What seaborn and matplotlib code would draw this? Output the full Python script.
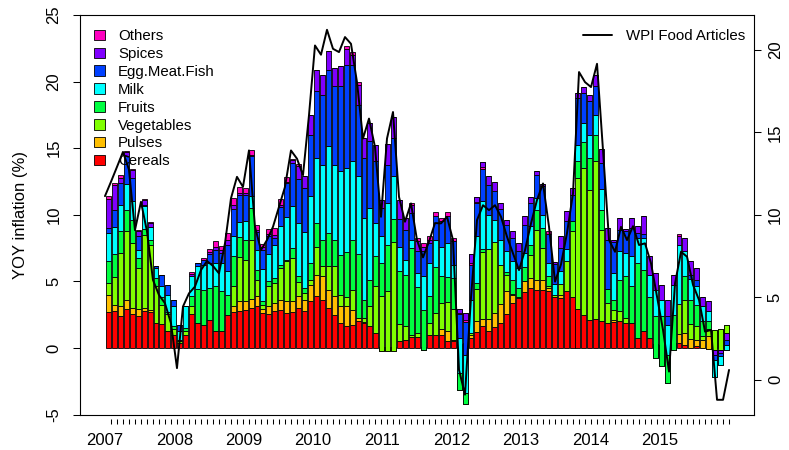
import numpy as np
import matplotlib
matplotlib.use("Agg")
import matplotlib.pyplot as plt
import seaborn as sns
from matplotlib.patches import Patch
from matplotlib.lines import Line2D

sns.set_theme(style="ticks")
plt.rcParams["font.family"] = ["Liberation Sans", "DejaVu Sans"]
plt.rcParams["text.color"] = "black"
plt.rcParams["axes.labelcolor"] = "black"
plt.rcParams["xtick.color"] = "black"
plt.rcParams["ytick.color"] = "black"

# ---- data: monthly YOY contributions (percentage points) ----
year_labels = [str(y) for y in range(2007, 2016)]
groups = ["Cereals", "Pulses", "Vegetables", "Fruits", "Milk",
          "Egg.Meat.Fish", "Spices", "Others"]
colors = ["#FF0000", "#FFBF00", "#80FF00", "#00FF40", "#00FFFF",
          "#0040FF", "#8000FF", "#FF00BF"]

cereals = [2.7, 2.75, 2.43, 2.93, 2.58, 2.4, 2.75, 2.68, 1.88, 1.83,
           1.25, 1.0, 0.38, 1.0, 2.58, 1.88, 1.75, 2.13, 1.25, 1.25,
           2.5, 2.68, 2.75, 2.88, 3.0, 3.13, 2.6, 2.58, 2.8, 2.88,
           2.63, 2.68, 3.0, 2.75, 3.5, 3.93, 3.63, 3.0, 2.5, 1.88,
           1.63, 1.75, 2.0, 1.88, 1.63, 1.12, 0.05, 0.05, 0.1, 0.5,
           0.62, 0.82, 0.8, 0.1, 1.0, 1.0, 1.0, 0.5, 0.5, 0.3,
           0.35, 0.75, 1.2, 1.63, 1.3, 1.58, 1.88, 2.58, 3.38, 3.75,
           4.18, 4.5, 4.38, 4.38, 4.25, 3.83, 3.75, 4.25, 3.83, 2.93,
           2.5, 2.13, 2.18, 2.0, 1.88, 1.93, 2.0, 1.88, 1.88, 0.75,
           1.25, 0.75, 0.3, 0.2, 0.2, 0.4, 0.38, 0.25, 0.0, 0.12,
           0.0, -0.08, 0.15, 0.2, 0.3]
pulses = [1.3, 0.5, 0.75, 0.7, 0.43, 0.5, 0.25, 0.2, 0.0, 0.0,
          0.0, 0.0, 0.0, 0.0, 0.0, 0.0, 0.0, 0.0, 0.0, 0.0,
          0.0, 0.45, 0.75, 0.63, 0.68, 0.75, 0.35, 0.55, 0.6, 0.75,
          0.88, 0.83, 0.92, 0.88, 1.25, 1.58, 1.75, 1.38, 1.38, 1.25,
          1.5, 1.13, 0.25, 0.1, 0.0, 0.0, -0.3, -0.3, -0.35, 0.0,
          0.0, 0.0, 0.0, -0.23, 0.0, 0.0, 0.4, 0.75, 0.1, -0.5,
          -0.6, 0.25, 0.8, 0.55, 0.88, 1.05, 1.45, 1.68, 0.63, 0.0,
          0.83, 0.75, 0.75, 0.75, 0.25, 0.0, 0.25, 0.0, 0.0, 0.0,
          0.0, 0.0, 0.0, 0.0, 0.0, 0.2, 0.0, 0.0, 0.0, 0.0,
          0.0, 0.0, -0.05, 0.0, 0.0, 0.0, 0.7, 0.88, 0.68, 0.5,
          0.63, 0.95, 1.22, 1.22, 1.4]
vegetables = [0.9, 2.1, 3.95, 5.13, 4.88, 3.1, 5.5, 4.88, 2.75, 1.43,
              1.33, 0.43, 0.15, 0.25, 0.6, 0.0, 0.0, 0.0, 0.0, 0.0,
              0.0, 1.5, 3.33, 3.13, 4.45, 1.25, 0.3, 1.5, 1.45, 2.38,
              3.0, 3.25, 1.0, 0.5, 0.38, 2.08, 0.75, 1.75, 2.25, 0.88,
              0.7, 1.5, 0.0, 0.3, 1.5, 3.5, 4.12, 4.5, 8.2, 1.3,
              1.0, 0.18, 0.3, 0.0, 0.88, 1.63, 2.0, 2.2, 2.3, -2.93,
              -3.93, 0.1, 2.4, 5.05, 5.25, 5.3, 2.93, 1.25, 0.08, 0.07,
              0.0, 1.75, 3.75, 2.38, 0.13, 0.18, 0.8, 2.25, 4.93, 9.83,
              11.0, 9.75, 11.83, 6.88, 1.5, 0.75, 0.75, 0.38, 0.0, 0.0,
              0.0, 0.0, -1.0, -1.58, -2.83, -0.53, 2.25, 2.45, 1.15, 1.0,
              0.3, 0.55, -1.5, -1.55, -1.88]
fruits = [1.6, 1.7, 1.63, 1.63, 1.75, 0.75, 0.43, 0.38, 0.63, 0.58,
          0.1, 0.25, 0.1, 0.25, 0.75, 2.55, 2.63, 2.38, 3.38, 3.0,
          1.5, 2.25, 1.5, 1.5, 2.38, 0.75, 0.25, 0.4, 0.4, 0.25,
          0.1, 0.75, 0.45, 0.38, 1.25, 1.8, 2.0, 2.5, 2.0, 3.0,
          3.35, 3.75, 4.83, 1.35, 1.95, 2.25, 2.5, 3.5, 1.7, 4.0,
          3.88, 6.5, 3.5, 3.0, 2.0, 3.45, 2.0, 1.9, 2.35, 1.25,
          0.8, 0.0, 0.5, 0.2, 0.0, 0.0, 0.0, 0.18, 1.0, 0.68,
          1.08, 0.75, 1.5, 1.5, 0.75, 0.0, 0.0, 0.0, 0.75, 1.25,
          2.0, 2.38, 2.0, 1.45, 1.05, 0.75, 2.33, 3.13, 2.8, 5.63,
          4.63, 3.05, 3.13, 3.76, 2.13, 2.63, 0.0, 1.8, 1.8, 1.6,
          1.1, 0.6, -2.07, -1.12, 0.0]
milk = [2.1, 2.0, 2.0, 1.95, 1.38, 0.63, 1.7, 0.95, 0.78, 0.8,
        1.33, 1.5, 0.63, 1.68, 1.5, 1.7, 1.88, 1.88, 1.75, 2.13,
        1.75, 1.5, 1.13, 1.38, 0.88, 1.45, 2.4, 2.0, 2.5, 2.88,
        3.25, 3.13, 4.0, 4.2, 5.0, 4.88, 5.63, 6.5, 5.63, 6.25,
        6.33, 5.88, 5.8, 6.13, 5.43, 2.5, 2.03, 3.13, 3.3, 1.8,
        1.12, 0.62, 1.0, 2.55, 2.5, 2.05, 2.2, 2.5, 1.0, 2.63,
        2.88, 2.53, 3.5, 3.57, 2.57, 1.7, 1.88, 1.58, 1.43, 1.5,
        1.05, 1.38, 0.88, 1.0, 1.0, 0.83, 0.95, 0.93, 0.0, 1.25,
        1.38, 1.75, 1.5, 1.6, 0.0, 2.0, 2.18, 1.75, 2.2, 1.88,
        2.38, 1.7, 1.95, 1.25, 2.25, 2.25, 4.43, 1.88, 1.55, 1.4,
        1.1, 0.75, 1.32, 0.62, 0.43]
egg_meat_fish = [0.4, 1.3, 1.63, 2.05, 1.75, 1.0, 0.1, 0.0, 0.1, 0.83,
                 0.75, 0.4, 0.5, 0.0, 0.0, 0.25, 0.38, 0.63, 1.0, 0.75,
                 2.0, 2.05, 2.0, 2.0, 3.0, 1.4, 1.45, 1.38, 0.5, 1.45,
                 2.5, 3.25, 3.3, 3.3, 4.63, 5.0, 5.25, 5.75, 5.88, 6.38,
                 7.75, 7.25, 5.38, 4.5, 5.0, 4.7, 2.1, 2.88, 2.85, 2.1,
                 2.25, 2.0, 1.7, 1.83, 1.5, 1.8, 1.9, 2.05, 1.8, 2.18,
                 3.13, 3.42, 2.95, 2.93, 2.25, 2.13, 2.3, 2.0, 1.75, 1.25,
                 2.13, 1.75, 1.75, 2.13, 2.2, 1.43, 1.75, 2.08, 2.0, 3.5,
                 2.3, 2.5, 2.13, 1.95, 3.7, 2.3, 1.63, 1.63, 2.13, 0.38,
                 0.33, 0.0, 0.0, 0.0, 0.63, 0.0, 0.0, 0.0, 0.33, 0.5,
                 0.0, 0.0, 0.38, 0.25, 0.32]
spices = [2.2, 1.9, 0.38, 0.3, 0.6, 0.4, 0.35, 0.3, 0.0, 0.0,
          0.0, 0.0, 0.0, 0.0, 0.15, 0.0, 0.0, 0.2, 0.2, 0.25,
          0.38, 0.33, 0.18, 0.13, 0.1, 0.13, 0.25, 0.13, 0.25, 0.18,
          0.13, 0.2, 1.0, 0.88, 1.5, 1.63, 1.5, 1.45, 1.38, 1.55,
          1.18, 0.75, 1.5, 1.5, 1.38, 1.18, 0.58, 1.58, 1.55, 1.4,
          0.88, 0.63, 0.75, 0.33, 0.25, 0.0, 0.0, 0.0, 0.0, -0.38,
          -0.7, -0.8, -0.5, -0.5, 0.63, 0.68, 0.45, 0.33, 0.5, 0.63,
          0.63, 0.45, 0.25, 0.2, 0.0, 0.18, 0.88, 0.75, 0.5, 0.38,
          0.4, 0.5, 0.88, 1.05, 0.88, 0.2, 0.88, 0.18, 0.75, 0.5,
          1.3, 1.38, 1.3, 1.13, 1.2, 0.75, 0.63, 1.0, 1.0, 0.9,
          0.7, 0.73, 0.37, 0.25, 0.55]
others = [0.2, 0.15, 0.2, 0.08, 0.1, 0.1, 0.1, 0.08, 0.0, 0.0,
          0.0, 0.0, 0.0, 0.0, 0.1, 0.0, 0.13, 0.18, 0.48, 0.25,
          0.5, 0.5, 0.45, 0.33, 0.38, 0.38, 0.2, 0.38, 0.5, 0.43,
          0.38, 0.13, 0.13, 0.0, 0.0, 0.0, 0.0, 0.0, 0.0, 0.0,
          0.25, 0.18, 0.18, 0.0, 0.0, 0.0, 0.0, 0.0, 0.0, 0.0,
          0.0, 0.17, 0.2, 0.3, 0.25, 0.25, 0.25, 0.28, 0.2, 0.08,
          0.15, 0.13, 0.1, 0.15, 0.0, 0.0, 0.0, 0.0, 0.0, 0.0,
          0.0, 0.0, 0.0, 0.0, 0.18, 0.0, 0.0, 0.0, 0.0, 0.0,
          0.0, 0.0, 0.0, 0.0, 0.0, 0.0, 0.0, 0.0, 0.0, 0.0,
          0.0, 0.0, 0.0, 0.0, 0.0, 0.0, 0.18, 0.0, 0.0, 0.0,
          0.0, 0.0, 0.0, 0.0, 0.0]

# WPI food articles, YOY inflation (%), right-hand scale
wpi_food = [11.13, 12.0, 12.9, 13.81, 12.74, 9.07, 10.79, 9.0, 6.05, 5.14,
            4.64, 3.43, 0.71, 4.44, 5.24, 5.65, 6.65, 7.2, 6.9, 6.45,
            8.27, 11.0, 12.3, 11.69, 13.9, 9.27, 7.86, 8.47, 9.27, 10.48,
            11.69, 13.9, 13.4, 12.4, 16.03, 20.26, 19.7, 21.21, 20.06, 19.86,
            20.77, 20.36, 18.04, 14.62, 15.83, 14.11, 9.88, 14.62, 16.23, 11.09,
            9.58, 10.69, 8.47, 7.42, 8.37, 9.5, 9.48, 9.88, 8.47, 0.6,
            -0.9, 5.0, 9.68, 10.58, 10.28, 10.58, 9.88, 8.67, 7.66, 6.65,
            7.86, 9.48, 10.9, 11.9, 9.27, 5.95, 7.0, 8.9, 11.3, 18.65,
            18.04, 17.74, 19.15, 13.9, 8.47, 7.76, 9.27, 8.47, 9.31, 8.17,
            8.27, 7.06, 5.04, 3.02, 0.5, 5.85, 7.76, 7.46, 5.75, 4.84,
            2.92, 3.02, -1.21, -1.21, 0.6]

components = [cereals, pulses, vegetables, fruits, milk,
              egg_meat_fish, spices, others]

# ---- figure layout ----
W, H = 789, 450
fig = plt.figure(figsize=(W / 100, H / 100), dpi=100)
box_l, box_r, box_t, box_b = 80, 754, 15, 414.6
rect = [box_l / W, 1 - box_b / H, (box_r - box_l) / W, (box_b - box_t) / H]
FS = 12       # axis text
LFS = 10.8    # legend text

# ---- stacked bars (running sum, negatives stack through it) ----
ax = fig.add_axes(rect)
n = len(wpi_food)
bar_pos = 0.7 + 1.2 * np.arange(n)
running = np.zeros(n)
for vals, col in zip(components, colors):
    v = np.asarray(vals, dtype=float)
    ax.bar(bar_pos, v, width=1.0, bottom=running, color=col,
           edgecolor="black", linewidth=0.6, zorder=2)
    running = running + v
span = 1.2 * n
ax.set_xlim(-0.04 * span, 1.04 * span)
ax.set_ylim(-5, 25)
ax.set_xticks([])
yt = np.arange(-5, 26, 5)
ax.set_yticks(yt, labels=[str(t) for t in yt], rotation=90, va="center")
ax.tick_params(axis="y", direction="out", length=5.3, width=0.75,
               labelsize=FS, pad=8.0)
for s in ax.spines.values():
    s.set_visible(True)
    s.set_linewidth(0.8)
    s.set_color("black")
ax.set_ylabel("YOY inflation (%)", fontsize=FS)
ax.yaxis.set_label_coords(-0.077, 0.5)

handles = [Patch(facecolor=c, edgecolor="black", linewidth=0.6, label=g)
           for g, c in zip(groups, colors)][::-1]
ax.legend(handles=handles, loc="upper left", bbox_to_anchor=(0.0212, 0.9642),
          frameon=False, fontsize=LFS, handlelength=0.71, handleheight=0.71,
          handletextpad=0.87, labelspacing=0.257, borderpad=0, borderaxespad=0)

# ---- WPI line on its own scale ----
ax2 = fig.add_axes(rect)
ax2.patch.set_visible(False)
x = np.arange(n)
sns.lineplot(x=x, y=wpi_food, ax=ax2, color="black", linewidth=1.4, zorder=3)
ax2.set_xlim(-0.04 * (n - 1), 1.04 * (n - 1))
lo, hi = min(wpi_food), max(wpi_food)
ext = 0.04 * (hi - lo)
ax2.set_ylim(lo - ext, hi + ext)
for s in ax2.spines.values():
    s.set_visible(False)
ax2.spines["bottom"].set_position(("outward", 3))
ax2.yaxis.tick_right()
rt = np.arange(0, 21, 5)
ax2.set_yticks(rt, labels=[str(t) for t in rt], rotation=90, va="center")
ax2.tick_params(axis="y", direction="out", length=5.3, width=0.75,
                labelsize=FS, pad=4.7)
year_pos = np.arange(len(year_labels)) * (n - 1) / 9
ax2.set_xticks(year_pos, labels=year_labels)
ax2.set_xticks(x, minor=True)
ax2.tick_params(axis="x", which="major", length=0, labelsize=FS, pad=10)
ax2.tick_params(axis="x", which="minor", length=3.6, width=0.75,
                direction="out")
ax2.set_xlabel("")
ax2.set_ylabel("")
ax2.legend(handles=[Line2D([], [], color="black", linewidth=1.4,
                           label="WPI Food Articles")],
           loc="upper left", bbox_to_anchor=(0.7467, 0.9642), frameon=False,
           fontsize=LFS, handlelength=1.89, handletextpad=0.93,
           borderpad=0, borderaxespad=0)

fig.savefig("out.png", dpi=100)
